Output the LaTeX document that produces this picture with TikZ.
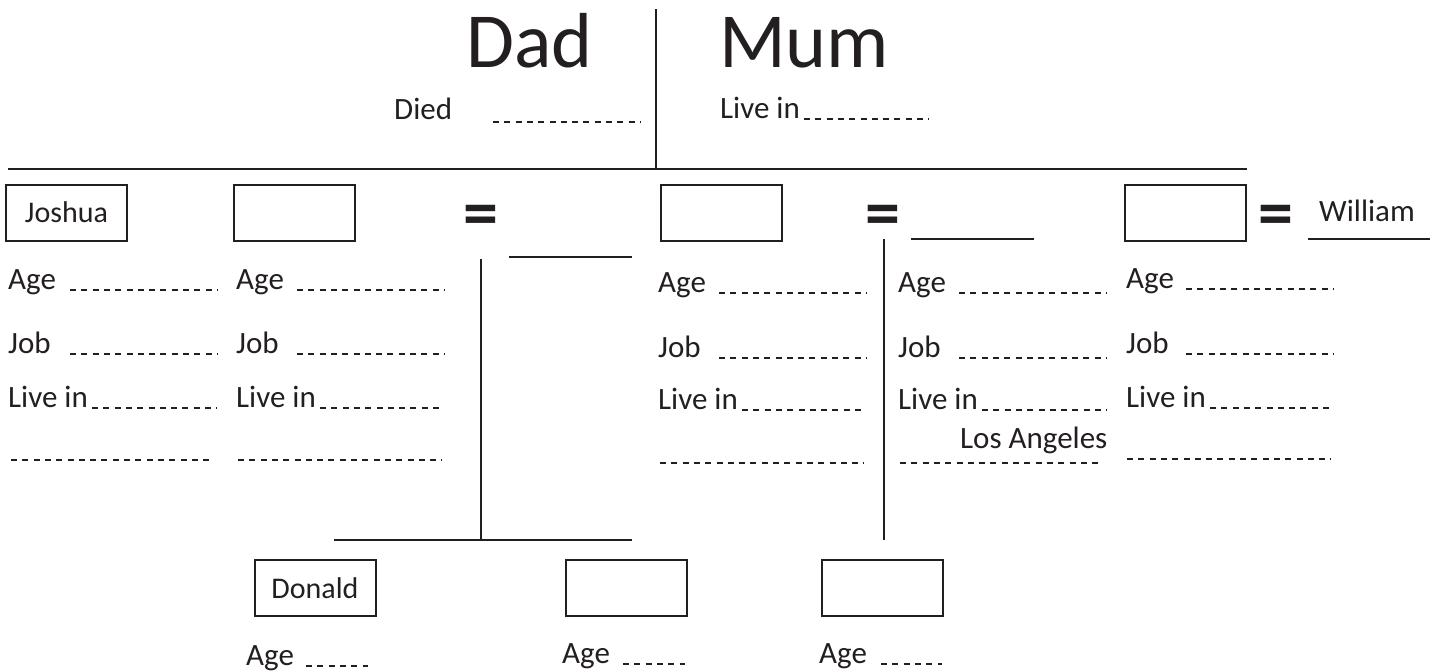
\documentclass[tikz,border=0pt]{standalone}
\usepackage{fontspec}
\setmainfont{Carlito}
\usepackage{xcolor}
\usepackage{tikz}
\usetikzlibrary{positioning,calc}
\definecolor{ink}{HTML}{231F20}

\begin{document}
\begin{tikzpicture}[
    x=1pt, y=-1pt,
    field/.style={anchor=base west, inner sep=0pt, text=ink, font=\fontsize{31}{37}\selectfont},
    title/.style={anchor=base west, inner sep=0pt, text=ink, font=\fontsize{78}{90}\selectfont},
    namebox/.style={rectangle, draw=ink, line width=2pt, minimum width=121pt, minimum height=56pt, inner sep=0pt, align=center, text=ink, font=\fontsize{30}{36}\selectfont},
    equal/.style={anchor=north, inner sep=0pt, text=ink, font=\fontsize{70}{80}\selectfont\bfseries},
    branch/.style={draw=ink, line width=2.8pt},
    blank/.style={draw=ink, line width=1.1pt, dash pattern=on 6pt off 5.3pt}
]
\useasboundingbox (0,0) rectangle (1438,672);

% Parents
\node[title] (dad) at (466,67) {Dad};
\node[title] (mum) at (719,67) {Mum};
\node[field] (died) at (394,119) {Died};
\node[field] (mumlive) at (720,118) {Live in};
\draw[blank] (493,122) -- (640,122) (804,119) -- (929,119);

\coordinate (rowL) at (8,169);
\coordinate (rowR) at (1247,169);
\coordinate (split) at (656,9);
\draw[branch] (rowL) -- (rowR);
\draw[branch] (split) -- (split |- rowL);

% Children row
\node[namebox] (joshua) at (66.5,212.5) {Joshua};
\node[namebox] (child2) at (294,212.5) {};
\node[equal] (eq1) at (481,205) {=};
\node[namebox] (child3) at (721,212.5) {};
\node[equal] (eq2) at (883,205) {=};
\node[namebox] (child4) at (1185.5,212.5) {};
\node[equal] (eq3) at (1276,205) {=};
\node[field] (william) at (1319,221) {William};

% Spouse lines and drops
\coordinate (sp1L) at (509,257);
\coordinate (sp1R) at (632,257);
\coordinate (sp2L) at (911,239);
\coordinate (sp2R) at (1034,239);
\coordinate (sp3L) at (1308,239);
\coordinate (sp3R) at (1430,239);
\draw[branch] (sp1L) -- (sp1R);
\draw[branch] (sp2L) -- (sp2R);
\draw[branch] (sp3L) -- (sp3R);

\coordinate (drop1) at (481,259);
\coordinate (kidsL) at (334,540);
\coordinate (kidsR) at (632,540);
\coordinate (drop2) at (884,239);
\draw[branch] (kidsL) -- (kidsR);
\draw[branch] (drop1) -- (drop1 |- kidsL);
\draw[branch] (drop2) -- (drop2 |- kidsL);

% Joshua column
\node[field] (age1) at (8,289) {Age};
\node[field] (job1) at (8,353) {Job};
\node[field] (live1) at (8,407) {Live in};
\draw[blank] (70,290) -- (217,290) (70,354) -- (217,354) (92,408) -- (217,408) (11,460) -- (214,460);

% Second column
\node[field] (age2) at (236,289) {Age};
\node[field] (job2) at (236,353) {Job};
\node[field] (live2) at (236,407) {Live in};
\draw[blank] (297,290) -- (444,290) (297,354) -- (444,354) (320,408) -- (444,408) (238,460) -- (442,460);

% Third column
\node[field] (age3) at (658,292) {Age};
\node[field] (job3) at (658,357) {Job};
\node[field] (live3) at (658,409) {Live in};
\draw[blank] (719,293) -- (866,293) (719,358) -- (866,358) (742,410) -- (866,410) (660,463) -- (864,463);

% Fourth column
\node[field] (age4) at (898,292) {Age};
\node[field] (job4) at (898,357) {Job};
\node[field] (live4) at (898,409) {Live in};
\node[field] (city) at (960,448) {Los Angeles};
\draw[blank] (959,293) -- (1107,293) (959,358) -- (1107,358) (982,410) -- (1107,410) (900,463) -- (1103,463);

% Fifth column
\node[field] (age5) at (1126,288) {Age};
\node[field] (job5) at (1126,353) {Job};
\node[field] (live5) at (1126,407) {Live in};
\draw[blank] (1186,289) -- (1333,289) (1186,354) -- (1333,354) (1210,408) -- (1333,408) (1127,459) -- (1331,459);

% Grandchildren
\node[namebox] (donald) at (315,588) {Donald};
\node[namebox] (gchild2) at (626,588) {};
\node[namebox] (gchild3) at (882.5,588) {};
\node[field] (gage1) at (246,665) {Age};
\node[field] (gage2) at (562,663) {Age};
\node[field] (gage3) at (819,663) {Age};
\draw[blank] (306,666) -- (368,666) (623,664) -- (685,664) (881,664) -- (942,664);

\end{tikzpicture}
\end{document}
